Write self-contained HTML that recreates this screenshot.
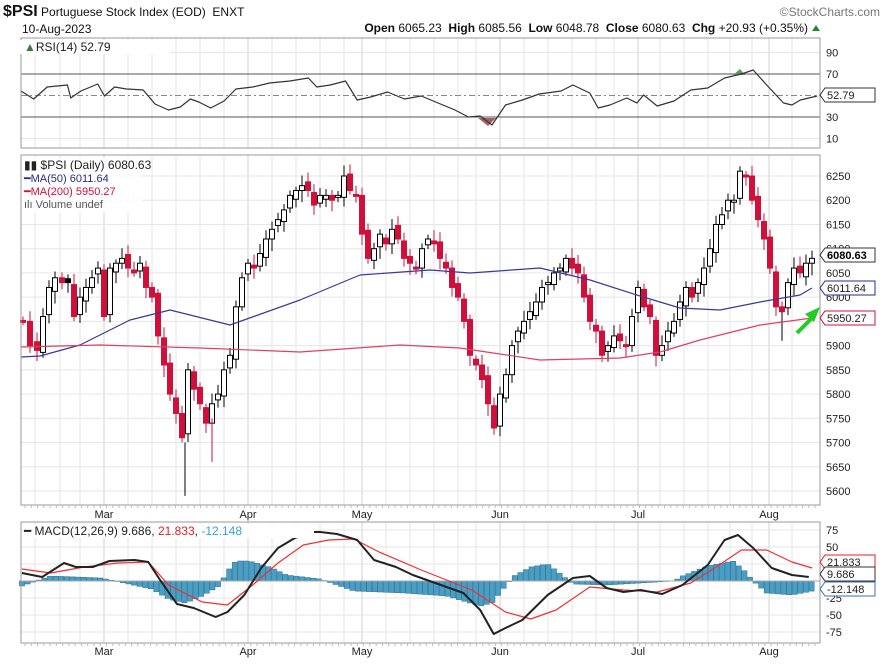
<!DOCTYPE html><html><head><meta charset="utf-8"><style>
body{margin:0;background:#fff;width:883px;height:663px;overflow:hidden;font-family:"Liberation Sans",sans-serif}
svg text{font-family:"Liberation Sans",sans-serif}
</style></head><body>
<svg id="s" width="883" height="663" xmlns="http://www.w3.org/2000/svg"></svg>
<script>
var S=document.getElementById('s'),o='';
function L(x1,y1,x2,y2,c,w,d){o+='<line x1="'+x1+'" y1="'+y1+'" x2="'+x2+'" y2="'+y2+'" stroke="'+c+'" stroke-width="'+(w||1)+'"'+(d?' stroke-dasharray="'+d+'"':'')+'/>';}
function T(x,y,t,sz,c,extra){o+='<text x="'+x+'" y="'+y+'" font-size="'+sz+'" fill="'+(c||'#000')+'" '+(extra||'')+'>'+t+'</text>';}
function P(pts,c,w){o+='<polyline fill="none" stroke="'+c+'" stroke-width="'+w+'" stroke-linejoin="round" points="'+pts.map(function(p){return p[0]+','+p[1]}).join(' ')+'"/>';}
var X0=21,X1=820;
var panels=[[38,148],[155,505],[522,643]];
var months=[[104,'Mar'],[248,'Apr'],[362,'May'],[500,'Jun'],[638,'Jul'],[769,'Aug']];
var vg=[35,60,80,128,152,176,200,224,272,296,320,344,386,410,434,458,476,524,548,572,596,614,660,684,708,730,752,792];
panels.forEach(function(p){
 vg.forEach(function(x){L(x,p[0],x,p[1],'#e6e6e6');});
 months.forEach(function(m){L(m[0],p[0],m[0],p[1],'#d0d0d0');});
});
function py(p){return 176+(6250-p)*0.4846;}
for(var p=5600;p<=6300;p+=50){var y=py(p);if(y>155&&y<505){L(X0,y,X1,y,'#e6e6e6');}}
for(var p=5600;p<=6250;p+=50){T(826,py(p)+4,p,11,'#222');}
function ry(r){return 74+(70-r)*1.075;}
[90,10].forEach(function(r){L(X0,ry(r),X1,ry(r),'#e6e6e6');T(826,ry(r)+4,r,11,'#222');});
L(X0,ry(70),X1,ry(70),'#555');L(X0,ry(30),X1,ry(30),'#555');L(X0,ry(50),X1,ry(50),'#888',1,'6,3,2,3');
T(826,ry(70)+4,'70',11,'#222');T(826,ry(30)+4,'30',11,'#222');
function my(m){return 581-0.68*m;}
[75,50,25,-25,-50,-75].forEach(function(m){L(X0,my(m),X1,my(m),'#e6e6e6');T(826,my(m)+4,m,11,'#222');});
var rsi=[[12,91],[20,99],[28,87],[40,85],[42,98],[48,91],[58,84],[62,96],[68,87],[75,89],[85,90],[92,104],[100,110],[107,107],[113,99],[118,102],[125,108],[133,101],[140,89],[150,87],[160,83],[172,81],[183,78],[188,87],[196,85],[205,81],[212,100],[220,97],[230,92],[240,99],[250,96],[260,103],[270,110],[278,117],[285,116],[292,125],[300,105],[310,100],[320,94],[333,91],[340,85],[350,93],[355,108],[362,105],[372,98],[378,103],[382,95],[390,106],[400,101],[410,90],[420,88],[430,78],[440,74],[447,70],[455,85],[465,103],[470,105],[475,100],[480,98],[485,96]].map(function(q){return [q[0]*1.685,q[1]];});
rsi[0][0]=21;
o+='<polygon points="478,118 496,118 488,126" fill="#a46060"/><polygon points="733,75 745,75 740,69" fill="#5a9a5a"/>';
P(rsi,'#333',1.2);
var cl=[[23,5950],[30,5900],[37,5890],[43,5960],[49,6020],[55,6040],[62,6030],[68,6030],[74,5960],[80,6000],[86,6020],[92,6040],[98,6060],[104,5960],[110,6060],[116,6070],[122,6080],[128,6060],[134,6050],[140,6070],[146,6020],[152,6000],[158,5920],[164,5860],[170,5800],[176,5760],[182,5710],[188,5850],[194,5810],[200,5780],[206,5740],[212,5780],[218,5800],[224,5850],[230,5880],[236,5980],[242,6040],[248,6070],[254,6060],[260,6090],[266,6120],[272,6140],[278,6160],[284,6180],[290,6210],[296,6220],[302,6230],[308,6220],[314,6190],[320,6210],[326,6210],[332,6200],[338,6210],[344,6250],[350,6220],[356,6210],[362,6130],[368,6080],[374,6100],[380,6130],[386,6110],[392,6140],[398,6120],[404,6080],[410,6070],[416,6060],[422,6100],[428,6120],[434,6110],[440,6080],[446,6060],[452,6020],[458,6000],[464,5950],[470,5880],[476,5860],[482,5830],[488,5780],[494,5730],[500,5800],[506,5840],[512,5900],[518,5930],[524,5950],[530,5970],[536,5990],[542,6020],[548,6030],[554,6050],[560,6060],[566,6080],[572,6060],[578,6050],[584,6000],[590,5950],[596,5930],[602,5880],[608,5900],[614,5920],[620,5910],[626,5900],[632,5960],[638,6020],[644,5980],[650,5960],[656,5880],[662,5900],[668,5930],[674,5950],[680,5990],[686,6020],[692,6000],[698,6030],[704,6060],[710,6100],[716,6150],[722,6170],[728,6200],[734,6200],[740,6260],[746,6250],[752,6200],[758,6160],[764,6120],[770,6060],[776,5980],[782,5970],[788,6030],[794,6060],[800,6050],[806,6070],[812,6080]];
var prev=5960;
cl.forEach(function(c,i){var x=c[0],cv=c[1];var op=prev+((i*37)%5-2)*4;var up=cv>=op;var hi=Math.max(op,cv)+8+(i*13)%15,lo=Math.min(op,cv)-8-(i*7)%18;
 var col=cv<prev?'#d0103a':'#000';
 L(x,py(hi),x,py(lo),col,1);
 var yt=py(Math.max(op,cv)),h=Math.max(2,Math.abs(py(op)-py(cv)));
 o+='<rect x="'+(x-2.5)+'" y="'+yt+'" width="5" height="'+h+'" fill="'+(up?'#fff':col)+'" stroke="'+col+'" stroke-width="1"/>';
 prev=cv;});
L(185,py(5700),185,py(5590),'#000');L(212,py(5750),212,py(5660),'#d0103a');L(782,py(5970),782,py(5910),'#000');
P([[21,357],[40,356],[80,345],[130,320],[170,310],[230,325],[300,300],[360,275],[430,270],[470,273],[540,268],[590,280],[640,296],[680,308],[720,310],[760,302],[800,295],[812,288]],'#3a3a9a',1.2);
P([[21,347],[100,345],[200,348],[300,352],[400,345],[460,348],[540,360],[620,358],[660,352],[700,340],[760,325],[812,318]],'#e04060',1.2);
var hs=[[13,-5],[30,5],[60,3],[90,-8],[100,-18],[110,-22],[120,-15],[130,-5],[135,10],[140,20],[148,20],[160,14],[170,6],[190,2],[210,-10],[240,-12],[265,-15],[285,-25],[292,-22],[300,-5],[305,5],[315,14],[325,17],[332,8],[340,-3],[360,-4],[380,-2],[400,0],[405,5],[420,15],[435,20],[442,10],[447,0],[455,-12],[470,-14],[482,-10]];
for(var x=22;x<=812;x+=5.6){var zx=x/1.685,v=0;for(var k=0;k<hs.length-1;k++){if(zx>=hs[k][0]&&zx<=hs[k+1][0]){var t=(zx-hs[k][0])/(hs[k+1][0]-hs[k][0]);v=hs[k][1]+t*(hs[k+1][1]-hs[k][1]);}}
 var y0=581,y1=581-v;o+='<rect x="'+(x-2.6)+'" y="'+Math.min(y0,y1)+'" width="5.2" height="'+Math.abs(v)+'" fill="#4a9ec4" stroke="#2f6e8f" stroke-width="0.5"/>';}
L(X0,581,X1,581,'#aaa');
var sig=[[13,569],[30,573],[50,567],[70,563],[88,562],[100,585],[120,602],[135,605],[150,585],[165,563],[180,545],[195,540],[210,539],[225,552],[250,570],[280,590],[300,612],[315,619],[330,610],[350,587],[370,590],[390,592],[410,583],[425,567],[440,550],[455,550],[470,562],[482,568]].map(function(q){return [q[0]*1.685,q[1]];});
P(sig,'#f03030',1.2);
var mac=[[13,573],[25,577],[38,563],[45,567],[55,567],[65,561],[80,560],[88,562],[95,580],[105,604],[115,608],[128,617],[135,612],[145,595],[155,568],[165,548],[175,538],[185,532],[190,532],[200,534],[212,540],[222,560],[235,567],[245,575],[260,584],[275,593],[285,610],[293,634],[300,628],[310,620],[325,595],[340,578],[350,576],[360,588],[370,592],[380,590],[393,594],[405,585],[420,565],[430,540],[438,535],[447,548],[458,568],[470,575],[480,577]].map(function(q){return [q[0]*1.685,q[1]];});
P(mac,'#222',2);
panels.forEach(function(p){o+='<rect x="'+X0+'" y="'+p[0]+'" width="'+(X1-X0)+'" height="'+(p[1]-p[0])+'" fill="none" stroke="#999"/>';});
months.forEach(function(m){T(m[0],518,m[1],11,'#222','text-anchor="middle"');T(m[0],655,m[1],11,'#222','text-anchor="middle"');});
for(var x=25;x<X1;x+=6.27){L(x,505,x,508,'#bbb');L(x,643,x,646,'#bbb');}
o+='<rect x="20" y="40" width="150" height="14" fill="#fff"/>';
T(24,51,'<tspan fill="#3a7a3a">▲</tspan>RSI(14) 52.79',12,'#222');
o+='<rect x="22" y="158" width="120" height="55" fill="#fff" fill-opacity="0.8"/>';
T(24,169,'▮▮ $PSI (Daily) 6080.63',12,'#222');
T(24,182,'━MA(50) 6011.64',11,'#2a2a8a');
T(24,195,'━MA(200) 5950.27',11,'#d0103a');
T(24,208,'ılı Volume undef',11,'#555');
o+='<rect x="22" y="524" width="292" height="14" fill="#fff"/>';
T(24,535,'━ MACD(12,26,9) 9.686, <tspan fill="#e02020">21.833</tspan>, <tspan fill="#3aa0d0">-12.148</tspan>',12,'#222');
function box(y,t,c,bold){o+='<polygon points="820,'+y+' 825,'+(y-7)+' 875,'+(y-7)+' 875,'+(y+7)+' 825,'+(y+7)+'" fill="#fff" stroke="'+c+'"/>';T(827,y+4,t,11,bold?'#000':'#222',bold?'font-weight="bold"':'');}
box(95,'52.79','#333');
box(255,'6080.63','#333',1);box(288,'6011.64','#2a2a9a');box(318,'5950.27','#d0103a');
box(562,'21.833','#e02020');box(574,'9.686','#333');box(589,'-12.148','#3a70b0');
o+='<line x1="797" y1="333" x2="812" y2="318" stroke="#22cc22" stroke-width="4"/><polygon points="820,307 805,314 814,322" fill="#22cc22"/>';
T(3,16,'<tspan font-weight="bold" font-size="16">$PSI</tspan> Portuguese Stock Index (EOD)  ENXT',12,'#111','xml:space="preserve"');
T(22,33,'10-Aug-2023',12,'#111');
T(808,32,'<tspan font-weight="bold">Open</tspan> 6065.23  <tspan font-weight="bold">High</tspan> 6085.56  <tspan font-weight="bold">Low</tspan> 6048.78  <tspan font-weight="bold">Close</tspan> 6080.63  <tspan font-weight="bold">Chg</tspan> +20.93 (+0.35%)',12,'#111','text-anchor="end" xml:space="preserve"');
o+='<polygon points="812,31 820,31 816,25" fill="#2a8a2a"/>';
T(880,16,'©StockCharts.com',12,'#777','text-anchor="end"');
S.innerHTML=o;
</script>
</body></html>
